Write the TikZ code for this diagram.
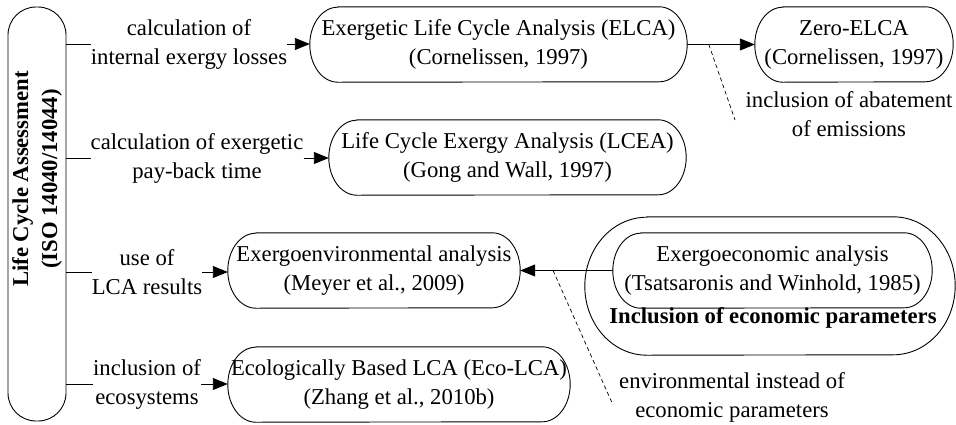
\documentclass[tikz,border=0pt]{standalone}
\usepackage{fontspec}
\setmainfont{Liberation Serif}
\usetikzlibrary{arrows.meta}

\tikzset{
  base/.style={font=\fontsize{22.7}{29}\selectfont},
  method/.style={base, inner sep=0pt, align=center, minimum height=75pt},
  cond/.style={base, inner sep=0pt, align=center},
  link/.style={line width=0.9pt},
  arr/.style={line width=0.9pt, -{Triangle[length=15pt,width=12pt]}},
  note/.style={line width=0.7pt, dash pattern=on 4pt off 3pt},
}

% Capsule outline around a node: straight top and bottom, elliptic ends
% #1 node name, #2 horizontal radius of the ends, #3 vertical radius
\newcommand\capsule[3]{%
  \draw[link] ([xshift=#2]#1.north west) -- ([xshift=-#2]#1.north east)
    arc[start angle=90, end angle=-90, x radius=#2, y radius=#3]
    -- ([xshift=#2]#1.south west)
    arc[start angle=270, end angle=90, x radius=#2, y radius=#3] -- cycle;}

\begin{document}
\begin{tikzpicture}[x=1pt, y=-1pt]
  \useasboundingbox (0,0) rectangle (956,424);

  % Root: life cycle assessment column
  \node[draw, line width=0.9pt, rounded corners=28pt, minimum width=58pt,
        minimum height=414pt, inner sep=0pt] (lca) at (37,214) {};
  \node[base, rotate=90, align=center, font=\fontsize{22.7}{29}\selectfont\bfseries]
        (lcatext) at (37,179) {Life Cycle Assessment\\(ISO 14040/14044)};

  % Derived methods
  \node[method, minimum width=377pt] (elca)  at (498.5,44.5)
        {Exergetic Life Cycle Analysis (ELCA)\\(Cornelissen, 1997)};
  \node[method, minimum width=198pt] (zero)  at (854,44.5)
        {Zero-ELCA\\(Cornelissen, 1997)};
  \node[method, minimum width=357pt] (lcea)  at (507.5,157.5)
        {Life Cycle Exergy Analysis (LCEA)\\(Gong and Wall, 1997)};
  \node[method, minimum width=292pt] (exenv) at (374,270.5)
        {Exergoenvironmental analysis\\(Meyer et al., 2009)};
  \node[method, minimum width=342pt] (eco)   at (399,384.5)
        {Ecologically Based LCA (Eco-LCA)\\(Zhang et al., 2010b)};

  % Exergoeconomic analysis inside its group
  \node[inner sep=0pt, minimum width=370pt, minimum height=138pt] (outer) at (770,286) {};
  \node[method, minimum width=319pt] (inner) at (772.5,270.5)
        {Exergoeconomic analysis\\(Tsatsaronis and Winhold, 1985)};
  \node[base, font=\fontsize{22.7}{29}\selectfont\bfseries, inner sep=0pt]
        (econ) at (773,318) {Inclusion of economic parameters};

  \foreach \n in {elca, zero, lcea, exenv, eco, inner}{\capsule{\n}{28pt}{37.5pt}}
  \capsule{outer}{62pt}{69pt}

  % Conditions on the branches from the root
  \node[cond] (c1) at (189,44)  {calculation of\\internal exergy losses};
  \node[cond] (c2) at (197,158) {calculation of exergetic\\pay-back time};
  \node[cond] (c3) at (147,272) {use of\\LCA results};
  \node[cond] (c4) at (147,384) {inclusion of\\ecosystems};

  \foreach \c/\t in {c1/elca, c2/lcea, c3/exenv, c4/eco}{
    \draw[link] (lca.east |- \c.west) -- (\c.west);
    \draw[arr] (\c.east) -- (\c.east -| \t.west);
  }

  % Extensions
  \draw[arr] (elca.east) -- (zero.west);
  \draw[arr] (inner.west) -- (inner.west -| exenv.east);

  % Annotations of the extensions
  \node[cond] (abate) at (849,114) {inclusion of abatement\\of emissions};
  \node[cond] (envp)  at (732,397) {environmental instead of\\economic parameters};

  \path (elca.east) -- (zero.west) coordinate[pos=0.32] (d1);
  \coordinate (a1) at (735,120);
  \draw[note] (d1) -- (a1);

  \path (inner.west) -- (inner.west -| exenv.east) coordinate[pos=0.645] (d2);
  \coordinate (a2) at (613,405);
  \draw[note] (d2) -- (a2);
\end{tikzpicture}
\end{document}
